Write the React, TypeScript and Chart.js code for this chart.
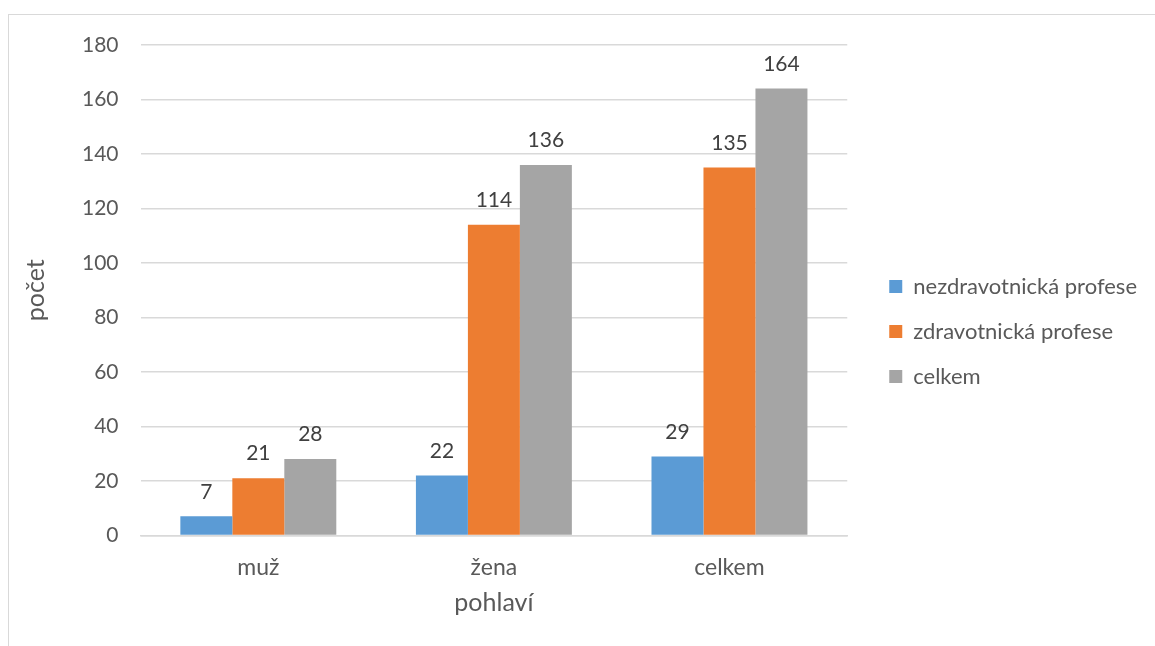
import React, { useEffect, useRef } from "react";
import { Chart, registerables } from "chart.js";

Chart.register(...registerables);

const categories = ["muž", "žena", "celkem"];
const seriesNames = ["nezdravotnická profese", "zdravotnická profese", "celkem"];
const nezdravotnicka = [7, 22, 29];
const zdravotnicka = [21, 114, 135];
const celkem = [28, 136, 164];
const seriesColors = ["#5b9bd5", "#ed7d31", "#a5a5a5"];
const yTitle = "počet";
const xTitle = "pohlaví";

const FONT = "Lato, 'Open Sans', sans-serif";
const TEXT = "#595959";
const LEGEND_GAP = 19;

const dataLabels = {
  id: "dataLabels",
  afterDatasetsDraw(chart: any) {
    const ctx = chart.ctx;
    ctx.save();
    ctx.font = `21px ${FONT}`;
    ctx.fillStyle = "#404040";
    ctx.textAlign = "center";
    ctx.textBaseline = "bottom";
    chart.data.datasets.forEach((ds: any, i: number) => {
      const meta = chart.getDatasetMeta(i);
      meta.data.forEach((bar: any, j: number) => {
        ctx.fillText(String(ds.data[j]), bar.x, bar.y - 14);
      });
    });
    ctx.restore();
  },
};

// widen the legend box on its left side so there is a gap between plot and legend
const legendGap = {
  id: "legendGap",
  afterInit(chart: any) {
    const legend = chart.legend;
    if (!legend || legend.__patched) return;
    legend.__patched = true;
    const origFit = legend.fit.bind(legend);
    legend.fit = function () {
      origFit();
      this.width += LEGEND_GAP;
    };
    const origDraw = legend.draw.bind(legend);
    legend.draw = function () {
      const ctx = this.ctx;
      ctx.save();
      ctx.translate(LEGEND_GAP, 0);
      origDraw();
      ctx.restore();
    };
  },
};

export default function App() {
  const ref = useRef<HTMLCanvasElement>(null);
  useEffect(() => {
    if (!ref.current) return;
    const chart = new Chart(ref.current, {
      type: "bar",
      data: {
        labels: categories,
        datasets: [nezdravotnicka, zdravotnicka, celkem].map((d, i) => ({
          label: seriesNames[i],
          data: d,
          backgroundColor: seriesColors[i],
          borderWidth: 0,
          barPercentage: 1,
          categoryPercentage: 0.662,
        })),
      },
      options: {
        animation: false,
        responsive: false,
        maintainAspectRatio: false,
        layout: { padding: { top: 45, left: 21, right: 8, bottom: 28 } },
        plugins: {
          tooltip: { enabled: false },
          legend: {
            position: "right",
            align: "center",
            labels: {
              boxWidth: 13,
              boxHeight: 13,
              padding: 23,
              color: TEXT,
              font: { family: FONT, size: 22 },
            },
          },
        },
        scales: {
          x: {
            grid: { display: false, drawTicks: false },
            border: { display: true, color: "#d9d9d9", width: 1.5 },
            ticks: { color: TEXT, font: { family: FONT, size: 23 }, padding: 18 },
            title: {
              display: true,
              text: xTitle,
              color: TEXT,
              font: { family: FONT, size: 25 },
              padding: { top: -11, bottom: 0 },
            },
          },
          y: {
            min: 0,
            max: 180,
            ticks: { stepSize: 20, color: TEXT, font: { family: FONT, size: 21 }, padding: 22 },
            grid: { color: "#d9d9d9", lineWidth: 1.5, drawTicks: false },
            border: { display: false },
            title: {
              display: true,
              text: yTitle,
              color: TEXT,
              font: { family: FONT, size: 25 },
              padding: { top: 0, bottom: 9 },
            },
          },
        },
      },
      plugins: [legendGap, dataLabels],
    });
    return () => chart.destroy();
  }, []);
  return (
    <div style={{ position: "fixed", left: 0, top: 0, width: 1155, height: 646, overflow: "hidden", background: "#fff" }}>
      <div style={{ position: "absolute", left: 8, top: 14, width: 1300, height: 800, border: "1.5px solid #d9d9d9" }} />
      <canvas ref={ref} width={1155} height={646} style={{ position: "absolute", left: 0, top: 0 }} />
    </div>
  );
}
